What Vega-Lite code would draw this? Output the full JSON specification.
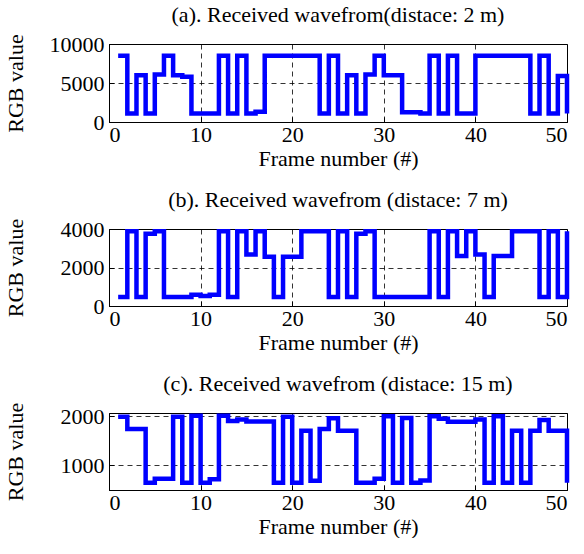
{
  "$schema": "https://vega.github.io/schema/vega-lite/v6.json",
  "background": "white",
  "padding": {"left": 3, "top": 3, "right": 0, "bottom": 0},
  "spacing": 18,
  "datasets": {
    "a": [
      {"frame": 1, "rgb": 8500}, {"frame": 2, "rgb": 1100}, {"frame": 3, "rgb": 6000}, {"frame": 4, "rgb": 1100}, {"frame": 5, "rgb": 6100},
      {"frame": 6, "rgb": 8500}, {"frame": 7, "rgb": 6000}, {"frame": 8, "rgb": 5800}, {"frame": 9, "rgb": 1100}, {"frame": 10, "rgb": 1100},
      {"frame": 11, "rgb": 1100}, {"frame": 12, "rgb": 8500}, {"frame": 13, "rgb": 1100}, {"frame": 14, "rgb": 8500}, {"frame": 15, "rgb": 1100},
      {"frame": 16, "rgb": 1300}, {"frame": 17, "rgb": 8500}, {"frame": 18, "rgb": 8500}, {"frame": 19, "rgb": 8500}, {"frame": 20, "rgb": 8500},
      {"frame": 21, "rgb": 8500}, {"frame": 22, "rgb": 8500}, {"frame": 23, "rgb": 1100}, {"frame": 24, "rgb": 8500}, {"frame": 25, "rgb": 1100},
      {"frame": 26, "rgb": 6000}, {"frame": 27, "rgb": 1100}, {"frame": 28, "rgb": 6100}, {"frame": 29, "rgb": 8500}, {"frame": 30, "rgb": 6000},
      {"frame": 31, "rgb": 6000}, {"frame": 32, "rgb": 1250}, {"frame": 33, "rgb": 1250}, {"frame": 34, "rgb": 1100}, {"frame": 35, "rgb": 8500},
      {"frame": 36, "rgb": 1100}, {"frame": 37, "rgb": 8500}, {"frame": 38, "rgb": 1100}, {"frame": 39, "rgb": 1100}, {"frame": 40, "rgb": 8500},
      {"frame": 41, "rgb": 8500}, {"frame": 42, "rgb": 8500}, {"frame": 43, "rgb": 8500}, {"frame": 44, "rgb": 8500}, {"frame": 45, "rgb": 8500},
      {"frame": 46, "rgb": 1100}, {"frame": 47, "rgb": 8500}, {"frame": 48, "rgb": 1100}, {"frame": 49, "rgb": 5900}, {"frame": 50, "rgb": 1100}
    ],
    "b": [
      {"frame": 1, "rgb": 470}, {"frame": 2, "rgb": 3880}, {"frame": 3, "rgb": 470}, {"frame": 4, "rgb": 3750}, {"frame": 5, "rgb": 3880},
      {"frame": 6, "rgb": 470}, {"frame": 7, "rgb": 470}, {"frame": 8, "rgb": 470}, {"frame": 9, "rgb": 580}, {"frame": 10, "rgb": 520},
      {"frame": 11, "rgb": 580}, {"frame": 12, "rgb": 3880}, {"frame": 13, "rgb": 470}, {"frame": 14, "rgb": 3880}, {"frame": 15, "rgb": 2680},
      {"frame": 16, "rgb": 3880}, {"frame": 17, "rgb": 2560}, {"frame": 18, "rgb": 470}, {"frame": 19, "rgb": 2560}, {"frame": 20, "rgb": 2560},
      {"frame": 21, "rgb": 3880}, {"frame": 22, "rgb": 3880}, {"frame": 23, "rgb": 3880}, {"frame": 24, "rgb": 470}, {"frame": 25, "rgb": 3880},
      {"frame": 26, "rgb": 470}, {"frame": 27, "rgb": 3750}, {"frame": 28, "rgb": 3880}, {"frame": 29, "rgb": 470}, {"frame": 30, "rgb": 470},
      {"frame": 31, "rgb": 470}, {"frame": 32, "rgb": 470}, {"frame": 33, "rgb": 470}, {"frame": 34, "rgb": 470}, {"frame": 35, "rgb": 3880},
      {"frame": 36, "rgb": 470}, {"frame": 37, "rgb": 3880}, {"frame": 38, "rgb": 2600}, {"frame": 39, "rgb": 3880}, {"frame": 40, "rgb": 2680},
      {"frame": 41, "rgb": 470}, {"frame": 42, "rgb": 2600}, {"frame": 43, "rgb": 2600}, {"frame": 44, "rgb": 3880}, {"frame": 45, "rgb": 3880},
      {"frame": 46, "rgb": 3880}, {"frame": 47, "rgb": 470}, {"frame": 48, "rgb": 3880}, {"frame": 49, "rgb": 470}, {"frame": 50, "rgb": 3880}
    ],
    "c": [
      {"frame": 1, "rgb": 1990}, {"frame": 2, "rgb": 1740}, {"frame": 3, "rgb": 1740}, {"frame": 4, "rgb": 640}, {"frame": 5, "rgb": 720},
      {"frame": 6, "rgb": 720}, {"frame": 7, "rgb": 1990}, {"frame": 8, "rgb": 640}, {"frame": 9, "rgb": 2010}, {"frame": 10, "rgb": 640},
      {"frame": 11, "rgb": 710}, {"frame": 12, "rgb": 2010}, {"frame": 13, "rgb": 1900}, {"frame": 14, "rgb": 1930}, {"frame": 15, "rgb": 1890},
      {"frame": 16, "rgb": 1890}, {"frame": 17, "rgb": 1890}, {"frame": 18, "rgb": 640}, {"frame": 19, "rgb": 1990}, {"frame": 20, "rgb": 640},
      {"frame": 21, "rgb": 1700}, {"frame": 22, "rgb": 680}, {"frame": 23, "rgb": 1740}, {"frame": 24, "rgb": 1960}, {"frame": 25, "rgb": 1700},
      {"frame": 26, "rgb": 1700}, {"frame": 27, "rgb": 640}, {"frame": 28, "rgb": 640}, {"frame": 29, "rgb": 720}, {"frame": 30, "rgb": 2000},
      {"frame": 31, "rgb": 640}, {"frame": 32, "rgb": 1965}, {"frame": 33, "rgb": 640}, {"frame": 34, "rgb": 685}, {"frame": 35, "rgb": 2000},
      {"frame": 36, "rgb": 1945}, {"frame": 37, "rgb": 1885}, {"frame": 38, "rgb": 1885}, {"frame": 39, "rgb": 1885}, {"frame": 40, "rgb": 1930},
      {"frame": 41, "rgb": 640}, {"frame": 42, "rgb": 2000}, {"frame": 43, "rgb": 640}, {"frame": 44, "rgb": 1700}, {"frame": 45, "rgb": 640},
      {"frame": 46, "rgb": 1700}, {"frame": 47, "rgb": 1920}, {"frame": 48, "rgb": 1700}, {"frame": 49, "rgb": 1700}, {"frame": 50, "rgb": 640}
    ]
  },
  "vconcat": [
    {
      "width": 458, "height": 78,
      "title": {"text": "(a). Received wavefrom(distace: 2 m)"},
      "data": {"name": "a"},
      "mark": {"type": "line", "interpolate": "step-after", "color": "#0000ff", "strokeWidth": 4.5},
      "encoding": {
        "x": {"field": "frame", "type": "quantitative", "scale": {"domain": [0, 50], "nice": false}, "axis": {"values": [0, 10, 20, 30, 40, 50], "title": "Frame number (#)"}},
        "y": {"field": "rgb", "type": "quantitative", "scale": {"domain": [0, 10000], "nice": false}, "axis": {"values": [0, 5000, 10000], "title": "RGB value"}}
      }
    },
    {
      "width": 458, "height": 77,
      "title": {"text": "(b). Received wavefrom (distace: 7 m)"},
      "data": {"name": "b"},
      "mark": {"type": "line", "interpolate": "step-after", "color": "#0000ff", "strokeWidth": 4.5},
      "encoding": {
        "x": {"field": "frame", "type": "quantitative", "scale": {"domain": [0, 50], "nice": false}, "axis": {"values": [0, 10, 20, 30, 40, 50], "title": "Frame number (#)"}},
        "y": {"field": "rgb", "type": "quantitative", "scale": {"domain": [0, 4000], "nice": false}, "axis": {"values": [0, 2000, 4000], "title": "RGB value"}}
      }
    },
    {
      "width": 458, "height": 77,
      "title": {"text": "(c). Received wavefrom (distace: 15 m)"},
      "data": {"name": "c"},
      "mark": {"type": "line", "interpolate": "step-after", "color": "#0000ff", "strokeWidth": 4.5},
      "encoding": {
        "x": {"field": "frame", "type": "quantitative", "scale": {"domain": [0, 50], "nice": false}, "axis": {"values": [0, 10, 20, 30, 40, 50], "title": "Frame number (#)"}},
        "y": {"field": "rgb", "type": "quantitative", "scale": {"domain": [490, 2065], "nice": false, "zero": false}, "axis": {"values": [1000, 2000], "title": "RGB value"}}
      }
    }
  ],
  "config": {
    "font": "Liberation Serif",
    "view": {"stroke": "black", "strokeWidth": 1},
    "axis": {
      "labelFont": "Liberation Serif", "labelFontSize": 22, "labelColor": "black", "format": "d",
      "titleFont": "Liberation Serif", "titleFontSize": 22, "titleFontWeight": "normal", "titleColor": "black",
      "domainColor": "black", "tickColor": "black", "tickSize": -5, "labelPadding": 7, "titlePadding": 3,
      "grid": true, "gridColor": "black", "gridDash": [5, 4], "gridOpacity": 0.8, "gridWidth": 1
    },
    "axisY": {"labelPadding": 10, "titleX": -82},
    "title": {"font": "Liberation Serif", "fontSize": 22, "fontWeight": "normal", "color": "black", "offset": 6}
  }
}
